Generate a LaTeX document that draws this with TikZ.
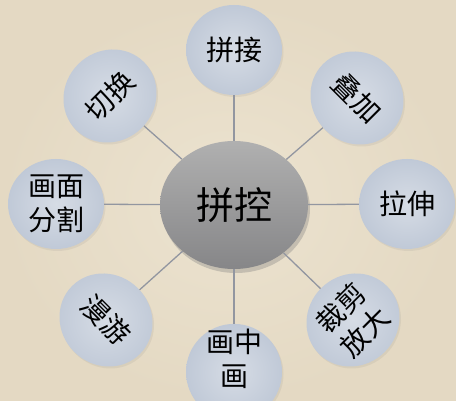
\documentclass[tikz,border=0pt]{standalone}
\usepackage{fontspec}
\newfontfamily\cjk{Noto Sans CJK SC}
\usetikzlibrary{shapes.geometric,shadows}
\definecolor{parchment}{RGB}{236,227,208}
\definecolor{parchment edge}{RGB}{228,217,195}
\definecolor{leaf inner}{RGB}{214,220,229}
\definecolor{leaf outer}{RGB}{192,201,215}
\definecolor{hub top}{RGB}{176,176,176}
\definecolor{hub bottom}{RGB}{134,134,136}
\definecolor{spoke gray}{RGB}{146,150,160}
\tikzset{
    leaf style/.style={ellipse,inner sep=0pt,minimum width=96pt,minimum height=90pt,
        shading=radial,inner color=leaf inner,outer color=leaf outer,
        drop shadow={opacity=.12,shadow xshift=1.5pt,shadow yshift=-2pt},
        font=\cjk\fontsize{28}{34}\selectfont,align=center},
    hub style/.style={ellipse,inner sep=0pt,minimum width=148pt,minimum height=128pt,
        top color=hub top,bottom color=hub bottom,
        drop shadow={opacity=.35,shadow xshift=2pt,shadow yshift=-4pt},
        font=\cjk\fontsize{38}{44}\selectfont},
    spoke/.style={draw=spoke gray,line width=1.3pt},
}
% lift a text block without changing its size
\newcommand{\liftup}[2]{\raisebox{#1}[\height][\depth]{\begin{tabular}{@{}c@{}}#2\end{tabular}}}

\begin{document}
\begin{tikzpicture}[x=1pt,y=1pt]
    \useasboundingbox (0,0) rectangle (456,401);
    \shade[inner color=parchment,outer color=parchment edge] (0,0) rectangle (456,401);

    \node[hub style] (hub) at (234,196) {拼控};

    \node[leaf style] (splice) at (234,351) {拼接};
    \node[leaf style,rotate=-45] (overlay) at (357,303) {叠加};
    \node[leaf style] (stretch) at (407,197) {拉伸};
    \node[leaf style,rotate=45] (crop) at (353,81) {裁剪\\放大};
    \node[leaf style] (pip) at (234,29) {\liftup{9pt}{画中\\画}};
    \node[leaf style,rotate=-45] (roam) at (106,81) {漫游};
    \node[leaf style] (split) at (56,197) {画面\\分割};
    \node[leaf style,rotate=45] (switch) at (110,305) {切换};

    \foreach \leaf in {splice,overlay,stretch,crop,pip,roam,split,switch}
        \draw[spoke] (hub) -- (\leaf);
\end{tikzpicture}
\end{document}
